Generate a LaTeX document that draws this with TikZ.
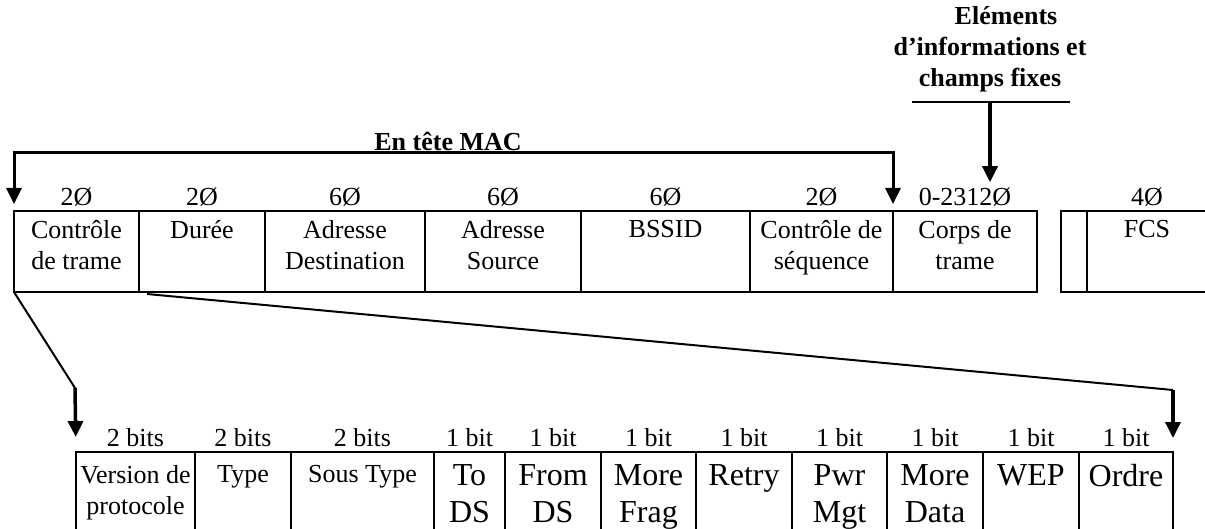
\documentclass[tikz,border=0pt]{standalone}
\usepackage{fontspec}
\setmainfont{Liberation Serif}
\usetikzlibrary{arrows.meta,positioning}
\tikzset{
  champ/.style={draw,line width=2pt,inner sep=0pt,outer sep=0pt,minimum height=81pt},
  champb/.style={champ,minimum height=90pt},
  taille/.style={font=\fontsize{26}{31}\selectfont,inner xsep=0pt,inner ysep=5pt},
  texte/.style={anchor=north,align=center,font=\fontsize{26}{31}\selectfont,inner xsep=0pt,inner ysep=9pt},
  texteb/.style={texte,inner ysep=13.5pt},
  grand/.style={texte,font=\fontsize{32}{37}\selectfont,inner ysep=12pt},
  titre/.style={font=\fontsize{26}{31}\selectfont\bfseries,inner sep=2pt},
  trait/.style={line width=2pt},
  fleche/.style={line width=3.5pt,-{Triangle[width=15pt,length=16pt]}}
}
\begin{document}
\begin{tikzpicture}[x=1pt,y=-1pt]
  \useasboundingbox (0,0) rectangle (1205,529);

  % trame MAC
  \node[champ,minimum width=125pt,anchor=north west,label={[taille]above:2Ø},label={[texte]north:Contrôle\\de trame}] (ctrl) at (14,211) {};
  \node[champ,minimum width=126pt,right=0pt of ctrl,label={[taille]above:2Ø},label={[texte]north:Durée}] (duree) {};
  \node[champ,minimum width=160pt,right=0pt of duree,label={[taille]above:6Ø},label={[texte]north:Adresse\\Destination}] (dest) {};
  \node[champ,minimum width=156pt,right=0pt of dest,label={[taille]above:6Ø},label={[texte]north:Adresse\\Source}] (src) {};
  \node[champ,minimum width=169pt,right=0pt of src,label={[taille]above:6Ø},label={[texte]north:BSSID}] (bssid) {};
  \node[champ,minimum width=143pt,right=0pt of bssid,label={[taille]above:2Ø},label={[texte]north:Contrôle de\\séquence}] (seq) {};
  \node[champ,minimum width=144pt,right=0pt of seq,label={[taille,name=corpsz]above:0-2312Ø},label={[texte]north:Corps de\\trame}] (corps) {};
  \node[champ,minimum width=26pt,anchor=north west] (vide) at (1061,211) {};
  \node[champ,minimum width=120pt,right=0pt of vide,label={[taille]above:4Ø},label={[texte]north:FCS}] (fcs) {};

  % en-tete MAC
  \node[titre,anchor=south] (mac) at (448,153) {En tête MAC};
  \draw[line width=3pt,{Triangle[width=15pt,length=16pt]}-{Triangle[width=15pt,length=16pt]},shorten <=7pt,shorten >=7pt]
    (ctrl.north west) |- (mac.south) -| (corps.north west);

  % corps
  \node[titre,align=center,anchor=south] (info) at (990,94) {\hspace*{32pt}Eléments\\d'informations et\\champs fixes};
  \coordinate (soul) at ([yshift=-8pt]info.south);
  \draw[trait] ([xshift=-78pt]soul) -- ([xshift=80pt]soul);
  \draw[fleche] (soul) -- (soul |- corpsz.north);

  % controle de trame
  \node[champb,minimum width=119pt,anchor=north west,label={[taille]above:2 bits},label={[texteb]north:Version de\\protocole}] (ver) at (76,452) {};
  \node[champb,minimum width=96pt,right=0pt of ver,label={[taille]above:2 bits},label={[texteb]north:Type}] (type) {};
  \node[champb,minimum width=143pt,right=0pt of type,label={[taille]above:2 bits},label={[texteb]north:Sous Type}] (stype) {};
  \node[champb,minimum width=71pt,right=0pt of stype,label={[taille]above:1 bit},label={[grand]north:To\\DS}] (tods) {};
  \node[champb,minimum width=96pt,right=0pt of tods,label={[taille]above:1 bit},label={[grand]north:From\\DS}] (fromds) {};
  \node[champb,minimum width=95pt,right=0pt of fromds,label={[taille]above:1 bit},label={[grand]north:More\\Frag}] (frag) {};
  \node[champb,minimum width=96pt,right=0pt of frag,label={[taille]above:1 bit},label={[grand]north:Retry}] (retry) {};
  \node[champb,minimum width=95pt,right=0pt of retry,label={[taille]above:1 bit},label={[grand]north:Pwr\\Mgt}] (pwr) {};
  \node[champb,minimum width=96pt,right=0pt of pwr,label={[taille]above:1 bit},label={[grand]north:More\\Data}] (data) {};
  \node[champb,minimum width=96pt,right=0pt of data,label={[taille]above:1 bit},label={[grand]north:WEP}] (wep) {};
  \node[champb,minimum width=94pt,right=0pt of wep,label={[taille]above:1 bit},label={[grand]north:Ordre}] (ordre) {};

  % zoom
  \coordinate (coudeG) at (75,388);
  \coordinate (coudeD) at (1173,390);
  \draw[trait] (ctrl.south west) -- (coudeG);
  \draw[fleche,shorten >=15pt] (coudeG) -- (ver.north west);
  \draw[trait] ([xshift=8pt,yshift=-2pt]duree.south west) -- (coudeD);
  \draw[fleche,shorten >=14pt] (coudeD) -- (ordre.north east);
\end{tikzpicture}
\end{document}
